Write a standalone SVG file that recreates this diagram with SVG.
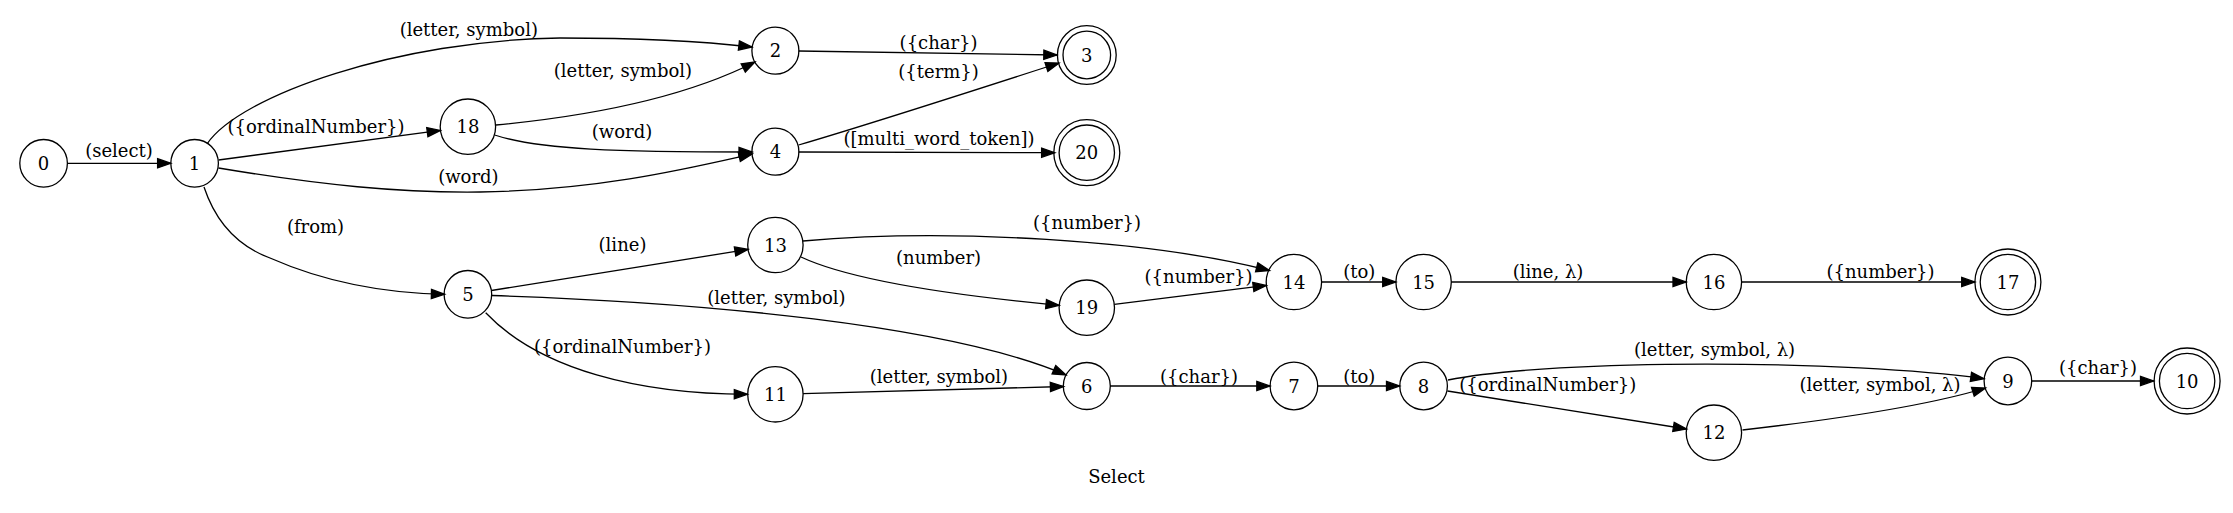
<svg xmlns="http://www.w3.org/2000/svg" width="2233" height="513" viewBox="0 0 2233 513">
<style>
.n{fill:none;stroke:#000;stroke-width:1.3}
.t{font-family:"DejaVu Serif",serif;font-size:18px;text-anchor:middle;fill:#000}
.e{fill:none;stroke:#000;stroke-width:1.3;marker-end:url(#a)}
</style>
<defs>
<marker id="a" markerUnits="userSpaceOnUse" markerWidth="16" markerHeight="12" refX="13.2" refY="4.6" orient="auto" overflow="visible">
<path d="M0,0 L13.2,4.6 L0,9.2 z" fill="#000" stroke="#000" stroke-width="1.3"/>
</marker>
</defs>
<rect width="2233" height="513" fill="#fff"/>
<g id="edges">
<path class="e" d="M67.4,163.3 L170.8,163.3"/>
<path class="e" d="M207,144 C240,95 400,40 560,38 C640,38 700,41 752,47"/>
<path class="e" d="M218.5,160 L440.4,130.4"/>
<path class="e" d="M218.5,168 C320,185 400,193 480,192 C600,190 690,168 752.2,154"/>
<path class="e" d="M204,187 C215,220 235,245 270,258 C320,280 380,293 444.6,294.3"/>
<path class="e" d="M496,125 C580,117 680,100 755,62"/>
<path class="e" d="M494.6,135 C540,150 620,152 752.2,152"/>
<path class="e" d="M798.6,51 L1057,55"/>
<path class="e" d="M798.6,145 C860,127 960,95 1059,63"/>
<path class="e" d="M798.6,152 L1054.8,152.7"/>
<path class="e" d="M491.4,290.5 L748.1,249.4"/>
<path class="e" d="M492,295.5 C700,302 950,325 1066,375"/>
<path class="e" d="M485.7,312.7 C540,370 640,394 747.5,394.3"/>
<path class="e" d="M803,241 C950,228 1150,240 1269.5,270.5"/>
<path class="e" d="M801,257 C850,280 950,295 1059.2,305.3"/>
<path class="e" d="M1114.3,304.3 L1266.4,285.4"/>
<path class="e" d="M1321.6,282 L1395.9,282"/>
<path class="e" d="M1451.3,282 L1686.2,282"/>
<path class="e" d="M1741.6,282 L1974.9,282"/>
<path class="e" d="M803.1,393.7 L1063.6,386.5"/>
<path class="e" d="M1110,386 L1270,386"/>
<path class="e" d="M1317.8,386 L1399.7,386"/>
<path class="e" d="M1448,380 C1560,358 1850,360 1984,378.7"/>
<path class="e" d="M1447.5,391 L1686.5,429"/>
<path class="e" d="M1742.5,430 C1830,420 1930,405 1985.5,388"/>
<path class="e" d="M2031.7,381 L2153.7,381"/>
</g>
<g id="edge-labels">
<text class="t" x="119" y="157">(select)</text>
<text class="t" x="468.8" y="36">(letter, symbol)</text>
<text class="t" x="316" y="132.7">({ordinalNumber})</text>
<text class="t" x="468.4" y="182.7">(word)</text>
<text class="t" x="315.5" y="233.3">(from)</text>
<text class="t" x="622.9" y="77.3">(letter, symbol)</text>
<text class="t" x="622" y="138.3">(word)</text>
<text class="t" x="938.6" y="49.3">({char})</text>
<text class="t" x="938.6" y="78.3">({term})</text>
<text class="t" x="939" y="145">([multi_word_token])</text>
<text class="t" x="622.5" y="250.7">(line)</text>
<text class="t" x="1087" y="229">({number})</text>
<text class="t" x="938.6" y="264">(number)</text>
<text class="t" x="776.4" y="304.3">(letter, symbol)</text>
<text class="t" x="622.5" y="352.7">({ordinalNumber})</text>
<text class="t" x="938.9" y="382.7">(letter, symbol)</text>
<text class="t" x="1198.6" y="283.3">({number})</text>
<text class="t" x="1359.3" y="277.7">(to)</text>
<text class="t" x="1548" y="277.7">(line, λ)</text>
<text class="t" x="1880.5" y="277.7">({number})</text>
<text class="t" x="1199" y="382.7">({char})</text>
<text class="t" x="1359.3" y="382.7">(to)</text>
<text class="t" x="1714.6" y="356">(letter, symbol, λ)</text>
<text class="t" x="1547.8" y="391">({ordinalNumber})</text>
<text class="t" x="1880" y="391">(letter, symbol, λ)</text>
<text class="t" x="2098" y="374.3">({char})</text>
</g>
<g id="node0"><circle class="n" cx="43.6" cy="163.3" r="23.8"/><text class="t" x="43.6" y="169.8">0</text></g>
<g id="node1"><circle class="n" cx="194.6" cy="163.3" r="23.8"/><text class="t" x="194.6" y="169.8">1</text></g>
<g id="node18"><circle class="n" cx="467.9" cy="126.7" r="27.7"/><text class="t" x="467.9" y="133.2">18</text></g>
<g id="node5"><circle class="n" cx="467.9" cy="294.3" r="23.8"/><text class="t" x="467.9" y="300.8">5</text></g>
<g id="node2"><circle class="n" cx="775.4" cy="50.7" r="23.5"/><text class="t" x="775.4" y="57.2">2</text></g>
<g id="node4"><circle class="n" cx="775.4" cy="151.7" r="23.5"/><text class="t" x="775.4" y="158.2">4</text></g>
<g id="node13"><circle class="n" cx="775.4" cy="245" r="27.7"/><text class="t" x="775.4" y="251.5">13</text></g>
<g id="node11"><circle class="n" cx="775.4" cy="394.3" r="27.7"/><text class="t" x="775.4" y="400.8">11</text></g>
<g id="node3"><circle class="n" cx="1086.8" cy="55" r="23.8"/><circle class="n" cx="1086.8" cy="55" r="29.4"/><text class="t" x="1086.8" y="61.5">3</text></g>
<g id="node20"><circle class="n" cx="1086.8" cy="152.7" r="27.7"/><circle class="n" cx="1086.8" cy="152.7" r="33"/><text class="t" x="1086.8" y="159.2">20</text></g>
<g id="node19"><circle class="n" cx="1086.8" cy="307.7" r="27.7"/><text class="t" x="1086.8" y="314.2">19</text></g>
<g id="node6"><circle class="n" cx="1086.8" cy="386" r="23.5"/><text class="t" x="1086.8" y="392.5">6</text></g>
<g id="node14"><circle class="n" cx="1293.9" cy="282" r="27.7"/><text class="t" x="1293.9" y="288.5">14</text></g>
<g id="node7"><circle class="n" cx="1293.9" cy="386" r="23.8"/><text class="t" x="1293.9" y="392.5">7</text></g>
<g id="node15"><circle class="n" cx="1423.6" cy="282" r="27.7"/><text class="t" x="1423.6" y="288.5">15</text></g>
<g id="node8"><circle class="n" cx="1423.6" cy="386" r="23.8"/><text class="t" x="1423.6" y="392.5">8</text></g>
<g id="node16"><circle class="n" cx="1713.9" cy="282" r="27.7"/><text class="t" x="1713.9" y="288.5">16</text></g>
<g id="node12"><circle class="n" cx="1713.9" cy="432.7" r="27.7"/><text class="t" x="1713.9" y="439.2">12</text></g>
<g id="node17"><circle class="n" cx="2007.9" cy="282" r="27.7"/><circle class="n" cx="2007.9" cy="282" r="33"/><text class="t" x="2007.9" y="288.5">17</text></g>
<g id="node9"><circle class="n" cx="2007.9" cy="381" r="23.8"/><text class="t" x="2007.9" y="387.5">9</text></g>
<g id="node10"><circle class="n" cx="2187.1" cy="381" r="27.7"/><circle class="n" cx="2187.1" cy="381" r="33"/><text class="t" x="2187.1" y="387.5">10</text></g>
<text class="t" x="1116.5" y="482.7">Select</text>
</svg>
